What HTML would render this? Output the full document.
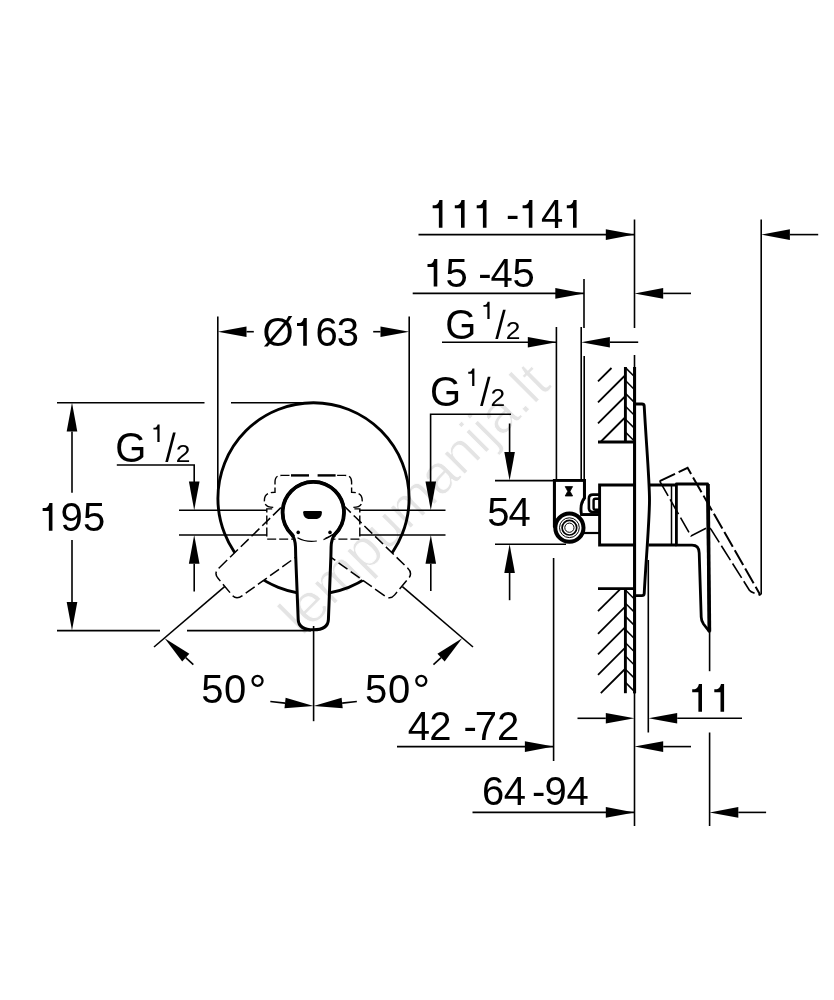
<!DOCTYPE html>
<html><head><meta charset="utf-8"><title>drawing</title>
<style>
html,body{margin:0;padding:0;background:#fff;}
body{width:834px;height:1000px;overflow:hidden;font-family:"Liberation Sans",sans-serif;}
svg{display:block;}
svg text{font-family:"Liberation Sans",sans-serif;fill:#000;stroke:none;}
</style></head><body>
<svg width="834" height="1000" viewBox="0 0 834 1000" stroke="#000" fill="none" stroke-linecap="butt">
<rect x="0" y="0" width="834" height="1000" fill="#fff" stroke="none"/>
<circle cx="313.5" cy="498.4" r="95.6" fill="none" stroke-width="2.9"/>
<path d="M 295.2 620 L 289.8 548 L 288.4 530 A 30.7 30.7 0 1 1 338.2 530 L 336.8 548 L 331.4 620 C 331.0 626, 328.6 627.8, 324.1 627.8 L 302.5 627.8 C 298 627.8, 295.6 626, 295.2 620 Z" transform="rotate(50 313.3 512.5)" fill="#fff" stroke-width="1.5" stroke-dasharray="11 4"/>
<path d="M 295.2 620 L 289.8 548 L 288.4 530 A 30.7 30.7 0 1 1 338.2 530 L 336.8 548 L 331.4 620 C 331.0 626, 328.6 627.8, 324.1 627.8 L 302.5 627.8 C 298 627.8, 295.6 626, 295.2 620 Z" transform="rotate(-50 313.3 512.5)" fill="#fff" stroke-width="1.5" stroke-dasharray="11 4"/>
<path d="M 289.5 475.4 L 281.6 475.4 C 277 475.4 275 477.5 275 482 L 275 492.3 C 267 492.3 264.4 495.5 264.4 500.3 C 264.4 505 267 507.4 273.5 507.4 L 273.5 508.9 L 266.8 508.9 L 266.8 539.1 L 313.3 539.1" fill="none" stroke-width="1.4" stroke-dasharray="9 3"/>
<path d="M 337.1 475.4 L 345.0 475.4 C 349.6 475.4 351.6 477.5 351.6 482 L 351.6 492.3 C 359.6 492.3 362.2 495.5 362.2 500.3 C 362.2 505 359.6 507.4 353.1 507.4 L 353.1 508.9 L 359.8 508.9 L 359.8 539.1 L 313.3 539.1" fill="none" stroke-width="1.4" stroke-dasharray="9 3"/>
<line x1="291" y1="475.4" x2="309" y2="475.4" stroke-width="2.4" />
<line x1="317.6" y1="475.4" x2="335.6" y2="475.4" stroke-width="2.4" />
<line x1="179" y1="510.2" x2="266.8" y2="510.2" stroke-width="1.6" />
<line x1="179" y1="535" x2="266.8" y2="535" stroke-width="1.6" />
<line x1="359.8" y1="510.2" x2="445.5" y2="510.2" stroke-width="1.6" />
<line x1="359.8" y1="535" x2="445.5" y2="535" stroke-width="1.6" />
<path d="M 298.2 619.6 L 295.7 556 L 295.5 547 C 295.3 541, 294 537.2, 291.9 534.5 A 30.7 30.7 0 1 1 334.7 534.5 C 332.6 537.2, 331.3 541, 331.1 547 L 330.9 556 L 328.4 619.6 C 328.1 626, 323.6 629.8, 313.3 629.8 C 303 629.8, 298.5 626, 298.2 619.6 Z" fill="#fff" stroke-width="3"/>
<path d="M 293.3 536.6 C 292.9 535.8 292.4 535.1 291.9 534.5 A 30.7 30.7 0 1 1 334.7 534.5 C 334.2 535.1 333.7 535.8 333.3 536.6" fill="none" stroke-width="3.8"/>
<line x1="187" y1="630.6" x2="311" y2="630.6" stroke-width="1.6" />
<path d="M 303.2 512.2 Q 303.2 511 304.5 511 L 320.6 511 Q 321.9 511 321.9 512.2 C 321.9 516.6 319.5 519 315.5 519 L 309.6 519 C 305.6 519 303.2 516.6 303.2 512.2 Z" fill="#000" stroke="none"/>
<circle cx="298.2" cy="532.4" r="1.8" fill="#000" stroke="none"/><circle cx="330" cy="532.4" r="1.8" fill="#000" stroke="none"/>
<path d="M 297.5 537.8 Q 313.3 546.5 333 534.5" fill="none" stroke-width="1.2" stroke-dasharray="20 9 9 100"/>
<path d="M 333 534.5 Q 328 538 323.5 539.6" fill="none" stroke-width="1.2"/>
<line x1="217.8" y1="316.5" x2="217.8" y2="498" stroke-width="1.6" />
<line x1="409.2" y1="316.5" x2="409.2" y2="498" stroke-width="1.6" />
<polygon points="217.80,331.70 246.50,326.40 246.50,337.00" fill="#000" stroke="none"/>
<line x1="246.5" y1="331.7" x2="253.8" y2="331.7" stroke-width="1.6" />
<polygon points="409.20,331.70 380.50,337.00 380.50,326.40" fill="#000" stroke="none"/>
<line x1="380.5" y1="331.7" x2="373.2" y2="331.7" stroke-width="1.6" />
<text x="262.60 315.60 336.80" y="345.6" font-size="40">Ø63</text>
<path d="M 306.80 318.00 L 306.80 345.70 L 303.20 345.70 L 303.20 326.10 L 297.00 326.10 L 297.00 323.10 L 299.40 323.10 C 301.40 323.00, 302.90 321.20, 303.70 318.00 Z" fill="#000" stroke="none"/>
<line x1="57" y1="402.7" x2="204.5" y2="402.7" stroke-width="1.6" />
<line x1="231" y1="402.7" x2="313" y2="402.7" stroke-width="1.6" />
<line x1="57" y1="630.6" x2="160" y2="630.6" stroke-width="1.6" />
<polygon points="72.00,402.70 77.30,431.40 66.70,431.40" fill="#000" stroke="none"/>
<line x1="72.0" y1="431.4" x2="72.0" y2="492.7" stroke-width="1.6" />
<polygon points="72.00,630.60 66.70,601.90 77.30,601.90" fill="#000" stroke="none"/>
<line x1="72.0" y1="601.9" x2="72.0" y2="540.1" stroke-width="1.6" />
<text x="60.50 82.90" y="530.8" font-size="40">95</text>
<path d="M 52.45 503.00 L 52.45 530.70 L 48.85 530.70 L 48.85 511.10 L 42.65 511.10 L 42.65 508.10 L 45.05 508.10 C 47.05 508.00, 48.55 506.20, 49.35 503.00 Z" fill="#000" stroke="none"/>
<g transform="translate(0 0)">
<text transform="translate(115.3 461.9) scale(0.93 1)" x="0" y="0" font-size="43">G</text>
<path d="M 159.60 424.50 L 159.60 441.90 L 157.34 441.90 L 157.34 429.59 L 153.44 429.59 L 153.44 427.70 L 154.95 427.70 C 156.21 427.64, 157.15 426.51, 157.65 424.50 Z" fill="#000" stroke="none"/>
<polygon points="165.3,461.9 168.0,461.9 175.7,432.6 173.0,432.6" fill="#000" stroke="none"/>
<text transform="translate(175.8 461.6) scale(1.1 1)" x="0" y="0" font-size="24">2</text>
</g>
<polyline points="116.8,465 194.2,465 194.2,482" fill="none" stroke-width="1.6"/>
<polygon points="194.20,510.20 188.90,481.50 199.50,481.50" fill="#000" stroke="none"/>
<polygon points="194.20,535.00 199.50,563.70 188.90,563.70" fill="#000" stroke="none"/>
<line x1="194.2" y1="563.7" x2="194.2" y2="591.5" stroke-width="1.6" />
<g transform="translate(314.8 -55.9)">
<text transform="translate(115.3 461.9) scale(0.93 1)" x="0" y="0" font-size="43">G</text>
<path d="M 159.60 424.50 L 159.60 441.90 L 157.34 441.90 L 157.34 429.59 L 153.44 429.59 L 153.44 427.70 L 154.95 427.70 C 156.21 427.64, 157.15 426.51, 157.65 424.50 Z" fill="#000" stroke="none"/>
<polygon points="165.3,461.9 168.0,461.9 175.7,432.6 173.0,432.6" fill="#000" stroke="none"/>
<text transform="translate(175.8 461.6) scale(1.1 1)" x="0" y="0" font-size="24">2</text>
</g>
<polyline points="430.6,482 430.6,414.3 511,414.3" fill="none" stroke-width="1.6"/>
<line x1="509.6" y1="423.5" x2="509.6" y2="452" stroke-width="1.6" />
<polygon points="430.80,510.20 425.50,481.50 436.10,481.50" fill="#000" stroke="none"/>
<polygon points="430.80,535.00 436.10,563.70 425.50,563.70" fill="#000" stroke="none"/>
<line x1="430.8" y1="563.7" x2="430.8" y2="591.0" stroke-width="1.6" />
<polygon points="509.60,480.60 504.30,451.90 514.90,451.90" fill="#000" stroke="none"/>
<polygon points="509.60,544.20 514.90,572.90 504.30,572.90" fill="#000" stroke="none"/>
<line x1="509.6" y1="572.9" x2="509.6" y2="600.2" stroke-width="1.6" />
<line x1="224.6" y1="586.6" x2="154" y2="647" stroke-width="1.6" />
<line x1="402.4" y1="586.6" x2="473" y2="647" stroke-width="1.6" />
<polygon points="164.60,638.30 189.34,653.78 182.18,661.60" fill="#000" stroke="none"/>
<line x1="185.76" y1="657.69" x2="193.35" y2="664.65" stroke-width="1.6" />
<polygon points="462.20,638.30 444.62,661.60 437.46,653.78" fill="#000" stroke="none"/>
<line x1="441.04" y1="657.69" x2="433.45" y2="664.65" stroke-width="1.6" />
<line x1="313.6" y1="626" x2="313.6" y2="721.2" stroke-width="1.6" />
<polygon points="313.60,706.10 284.50,708.37 285.61,697.83" fill="#000" stroke="none"/>
<line x1="285.06" y1="703.1" x2="270.34" y2="701.55" stroke-width="1.6" />
<polygon points="313.60,706.10 341.59,697.83 342.70,708.37" fill="#000" stroke="none"/>
<line x1="342.14" y1="703.1" x2="356.86" y2="701.55" stroke-width="1.6" />
<text x="201.30 223.90" y="703.1" font-size="40">50</text>
<text x="248.7" y="706.4" font-size="44" >°</text>
<text x="365.10 387.90" y="703.1" font-size="40">50</text>
<text x="412.6" y="706.4" font-size="44" >°</text>
<line x1="418.5" y1="234.6" x2="634.5" y2="234.6" stroke-width="1.6" />
<polygon points="634.50,234.60 605.80,239.90 605.80,229.30" fill="#000" stroke="none"/>
<text x="506.00 541.00" y="227.8" font-size="40">-4</text>
<path d="M 442.46 200.10 L 442.46 227.80 L 438.86 227.80 L 438.86 208.20 L 432.66 208.20 L 432.66 205.20 L 435.06 205.20 C 437.06 205.10, 438.56 203.30, 439.36 200.10 Z" fill="#000" stroke="none"/>
<path d="M 464.60 200.10 L 464.60 227.80 L 461.00 227.80 L 461.00 208.20 L 454.80 208.20 L 454.80 205.20 L 457.20 205.20 C 459.20 205.10, 460.70 203.30, 461.50 200.10 Z" fill="#000" stroke="none"/>
<path d="M 486.50 200.10 L 486.50 227.80 L 482.90 227.80 L 482.90 208.20 L 476.70 208.20 L 476.70 205.20 L 479.10 205.20 C 481.10 205.10, 482.60 203.30, 483.40 200.10 Z" fill="#000" stroke="none"/>
<path d="M 532.40 200.10 L 532.40 227.80 L 528.80 227.80 L 528.80 208.20 L 522.60 208.20 L 522.60 205.20 L 525.00 205.20 C 527.00 205.10, 528.50 203.30, 529.30 200.10 Z" fill="#000" stroke="none"/>
<path d="M 576.60 200.10 L 576.60 227.80 L 573.00 227.80 L 573.00 208.20 L 566.80 208.20 L 566.80 205.20 L 569.20 205.20 C 571.20 205.10, 572.70 203.30, 573.50 200.10 Z" fill="#000" stroke="none"/>
<line x1="634.5" y1="219.5" x2="634.5" y2="328" stroke-width="1.6" />
<line x1="634.5" y1="355" x2="634.5" y2="367" stroke-width="1.6" />
<line x1="761.2" y1="219.5" x2="761.2" y2="594.5" stroke-width="1.6" />
<polygon points="761.20,234.60 789.90,229.30 789.90,239.90" fill="#000" stroke="none"/>
<line x1="789.9" y1="234.6" x2="818.2" y2="234.6" stroke-width="1.6" />
<line x1="412.7" y1="293.4" x2="584" y2="293.4" stroke-width="1.6" />
<polygon points="584.00,293.40 555.30,298.70 555.30,288.10" fill="#000" stroke="none"/>
<text x="445.45 478.30 490.60 512.60" y="286.6" font-size="40">5-45</text>
<path d="M 437.30 258.90 L 437.30 286.60 L 433.70 286.60 L 433.70 267.00 L 427.50 267.00 L 427.50 264.00 L 429.90 264.00 C 431.90 263.90, 433.40 262.10, 434.20 258.90 Z" fill="#000" stroke="none"/>
<line x1="584" y1="279" x2="584" y2="328" stroke-width="1.6" />
<polygon points="634.50,293.40 663.20,288.10 663.20,298.70" fill="#000" stroke="none"/>
<line x1="663.2" y1="293.4" x2="691.0" y2="293.4" stroke-width="1.6" />
<line x1="442" y1="342.2" x2="556.5" y2="342.2" stroke-width="1.6" />
<polygon points="556.50,342.20 527.80,347.50 527.80,336.90" fill="#000" stroke="none"/>
<g transform="translate(330.0 -122.8)">
<text transform="translate(115.3 461.9) scale(0.93 1)" x="0" y="0" font-size="43">G</text>
<path d="M 159.60 424.50 L 159.60 441.90 L 157.34 441.90 L 157.34 429.59 L 153.44 429.59 L 153.44 427.70 L 154.95 427.70 C 156.21 427.64, 157.15 426.51, 157.65 424.50 Z" fill="#000" stroke="none"/>
<polygon points="165.3,461.9 168.0,461.9 175.7,432.6 173.0,432.6" fill="#000" stroke="none"/>
<text transform="translate(175.8 461.6) scale(1.1 1)" x="0" y="0" font-size="24">2</text>
</g>
<polygon points="581.20,342.20 609.90,336.90 609.90,347.50" fill="#000" stroke="none"/>
<line x1="609.9" y1="342.2" x2="638.2" y2="342.2" stroke-width="1.6" />
<line x1="556.4" y1="327" x2="556.4" y2="480" stroke-width="1.6" />
<line x1="581.2" y1="327" x2="581.2" y2="480" stroke-width="1.6" />
<line x1="584.2" y1="356" x2="584.2" y2="480" stroke-width="1.6" />
<line x1="495" y1="480.6" x2="554" y2="480.6" stroke-width="1.6" />
<line x1="495" y1="544.2" x2="566" y2="544.2" stroke-width="1.6" />
<text x="487.20 508.40" y="526.2" font-size="40">54</text>
<line x1="553.6" y1="558" x2="553.6" y2="761" stroke-width="1.6" />
<line x1="397" y1="746.6" x2="553.6" y2="746.6" stroke-width="1.6" />
<polygon points="553.60,746.60 524.90,751.90 524.90,741.30" fill="#000" stroke="none"/>
<text x="407.70 429.20 463.40 474.70 497.00" y="739.6" font-size="40">42-72</text>
<polygon points="634.50,746.60 663.20,741.30 663.20,751.90" fill="#000" stroke="none"/>
<line x1="663.2" y1="746.6" x2="691.0" y2="746.6" stroke-width="1.6" />
<line x1="472.5" y1="812.4" x2="634.5" y2="812.4" stroke-width="1.6" />
<polygon points="634.50,812.40 605.80,817.70 605.80,807.10" fill="#000" stroke="none"/>
<text x="482.00 503.70 532.10 544.50 566.40" y="805.1" font-size="40">64-94</text>
<line x1="634.5" y1="693" x2="634.5" y2="826" stroke-width="1.6" />
<line x1="709.6" y1="631" x2="709.6" y2="671.2" stroke-width="1.6" />
<line x1="709.6" y1="732.5" x2="709.6" y2="826" stroke-width="1.6" />
<polygon points="709.60,812.40 738.30,807.10 738.30,817.70" fill="#000" stroke="none"/>
<line x1="738.3" y1="812.4" x2="766.1" y2="812.4" stroke-width="1.6" />
<polygon points="634.50,718.30 605.80,723.60 605.80,713.00" fill="#000" stroke="none"/>
<line x1="605.8" y1="718.3" x2="577.5" y2="718.3" stroke-width="1.6" />
<polygon points="648.50,718.30 677.20,713.00 677.20,723.60" fill="#000" stroke="none"/>
<line x1="677.2" y1="718.3" x2="742.0" y2="718.3" stroke-width="1.6" />
<line x1="648.3" y1="560" x2="648.3" y2="732.5" stroke-width="1.6" />
<path d="M 702.00 684.10 L 702.00 711.80 L 698.40 711.80 L 698.40 692.20 L 692.20 692.20 L 692.20 689.20 L 694.60 689.20 C 696.60 689.10, 698.10 687.30, 698.90 684.10 Z" fill="#000" stroke="none"/>
<path d="M 724.10 684.10 L 724.10 711.80 L 720.50 711.80 L 720.50 692.20 L 714.30 692.20 L 714.30 689.20 L 716.70 689.20 C 718.70 689.10, 720.20 687.30, 721.00 684.10 Z" fill="#000" stroke="none"/>
<line x1="625.4" y1="367" x2="625.4" y2="442" stroke-width="2.9" />
<line x1="634.6" y1="367" x2="634.6" y2="442" stroke-width="2.9" />
<line x1="598" y1="442" x2="634.6" y2="442" stroke-width="2.9" />
<line x1="598" y1="381.4" x2="611.5" y2="368" stroke-width="1.8" />
<line x1="598" y1="402.4" x2="624.5" y2="376" stroke-width="1.8" />
<line x1="598" y1="423.4" x2="624.5" y2="397" stroke-width="1.8" />
<line x1="601" y1="441.5" x2="624.5" y2="418" stroke-width="1.8" />
<line x1="625.4" y1="367.6" x2="634.6" y2="376.8" stroke-width="1.5" />
<line x1="625.4" y1="380.5" x2="634.6" y2="389.7" stroke-width="1.5" />
<line x1="625.4" y1="393.40000000000003" x2="634.6" y2="402.6" stroke-width="1.5" />
<line x1="625.4" y1="406.3" x2="634.6" y2="415.5" stroke-width="1.5" />
<line x1="625.4" y1="419.20000000000005" x2="634.6" y2="428.40000000000003" stroke-width="1.5" />
<line x1="625.4" y1="432.1" x2="634.6" y2="441.3" stroke-width="1.5" />
<line x1="625.4" y1="588.6" x2="625.4" y2="693.2" stroke-width="2.9" />
<line x1="634.6" y1="588.6" x2="634.6" y2="693.2" stroke-width="2.9" />
<line x1="598" y1="588.6" x2="634.6" y2="588.6" stroke-width="2.9" />
<line x1="598" y1="611.2" x2="620.5" y2="588.8" stroke-width="1.8" />
<line x1="598" y1="633.9" x2="624.5" y2="607.3" stroke-width="1.8" />
<line x1="598" y1="654.4" x2="624.5" y2="627.8" stroke-width="1.8" />
<line x1="598" y1="674.9" x2="624.5" y2="648.3" stroke-width="1.8" />
<line x1="600.8" y1="693.2" x2="624.5" y2="669.5" stroke-width="1.8" />
<line x1="625.4" y1="590.0" x2="634.6" y2="599.2" stroke-width="1.5" />
<line x1="625.4" y1="603.2" x2="634.6" y2="612.4000000000001" stroke-width="1.5" />
<line x1="625.4" y1="616.4" x2="634.6" y2="625.6" stroke-width="1.5" />
<line x1="625.4" y1="629.6" x2="634.6" y2="638.8000000000001" stroke-width="1.5" />
<line x1="625.4" y1="642.8" x2="634.6" y2="652.0" stroke-width="1.5" />
<line x1="625.4" y1="656.0" x2="634.6" y2="665.2" stroke-width="1.5" />
<line x1="625.4" y1="669.2" x2="634.6" y2="678.4000000000001" stroke-width="1.5" />
<line x1="625.4" y1="682.4" x2="634.6" y2="691.6" stroke-width="1.5" />
<path d="M 634.6 404 L 642 404 Q 644 404 644.2 406 C 646 440, 649.5 480, 649.5 500 C 649.5 520, 646 560, 644.2 593.6 Q 644 595.6 642 595.6 L 634.6 595.6 Z" fill="#fff" stroke-width="2.9"/>
<line x1="634.6" y1="367" x2="634.6" y2="693.2" stroke-width="2.9" />
<path d="M 554.4 527.5 L 554.4 480.4 L 584.4 480.4 L 584.4 498 C 581.5 501.5 580 506 581.5 514.6 L 599.6 514.6" fill="none" stroke-width="2.9" stroke-linejoin="miter"/>
<rect x="555.8" y="481.8" width="27.2" height="40" fill="#fff" stroke="none"/>
<path d="M 554.4 527.5 L 554.4 480.4 L 584.4 480.4 L 584.4 498 C 581.5 501.5 580 506 581.5 514.6 L 599.6 514.6" fill="none" stroke-width="2.9"/>
<circle cx="569.4" cy="527.7" r="14.1" fill="#fff" stroke-width="4"/>
<circle cx="569.4" cy="527.7" r="9.9" fill="none" stroke-width="1"/>
<circle cx="569.4" cy="527.7" r="7.3" fill="none" stroke-width="1.7"/>
<circle cx="569.4" cy="527.7" r="4.6" fill="none" stroke-width="1"/>
<path d="M 565.2 486.6 L 572.6 486.6 L 570 491.3 L 572.6 496 L 565.2 496 L 567.8 491.3 Z" fill="#000" stroke-width="0.8"/>
<line x1="583.5" y1="533" x2="599.6" y2="533" stroke-width="2.2" />
<path d="M 599.6 494.6 L 593 494.6 Q 588.9 494.6 588.9 498.6 L 588.9 508 Q 588.9 512 593 512 L 599.6 512" fill="#fff" stroke-width="2.6"/>
<path d="M 599.6 498.8 L 595.4 498.8 Q 593.6 498.8 593.6 500.6 L 593.6 507.9 Q 593.6 509.7 595.4 509.7 L 599.6 509.7" fill="#fff" stroke-width="2.4"/>
<path d="M 634.6 485 L 599.6 485 L 599.6 545 L 634.6 545" fill="none" stroke-width="2.9"/>
<path d="M 648.5 485 L 676.4 485 M 648.5 545 L 676.4 545" fill="none" stroke-width="2.9"/>
<line x1="671.5" y1="485" x2="671.5" y2="545" stroke-width="1.5" />
<path d="M 676.4 484 L 707.6 484 L 709.3 631.5 L 703.5 624 Q 701.3 621 701.2 617 L 699.2 553 Q 699 545.2 692 545.2 L 676.4 545.2 Z" fill="#fff" stroke-width="2.8" stroke-linejoin="round"/>
<line x1="708.0" y1="484" x2="709.4" y2="631.5" stroke-width="3.6" />
<path d="M 659.7 481.2 L 687.6 467.8 L 760.4 595.2" fill="none" stroke-width="2.0" stroke-dasharray="17 4"/>
<path d="M 659.7 481.2 L 691 536 L 706.5 528 Q 709.5 526.8 711.2 529.6 L 749.4 590.2 Q 751 592.5 760.4 595.2" fill="none" stroke-width="1.6" stroke-dasharray="17 4"/>
<text x="0" y="0" font-size="55" transform="translate(302.1,636.9) rotate(-45)" style="fill:#e4e4e4;stroke:#fff;stroke-width:0.9;mix-blend-mode:multiply">lempumanija.lt</text>
</svg>
</body></html>
